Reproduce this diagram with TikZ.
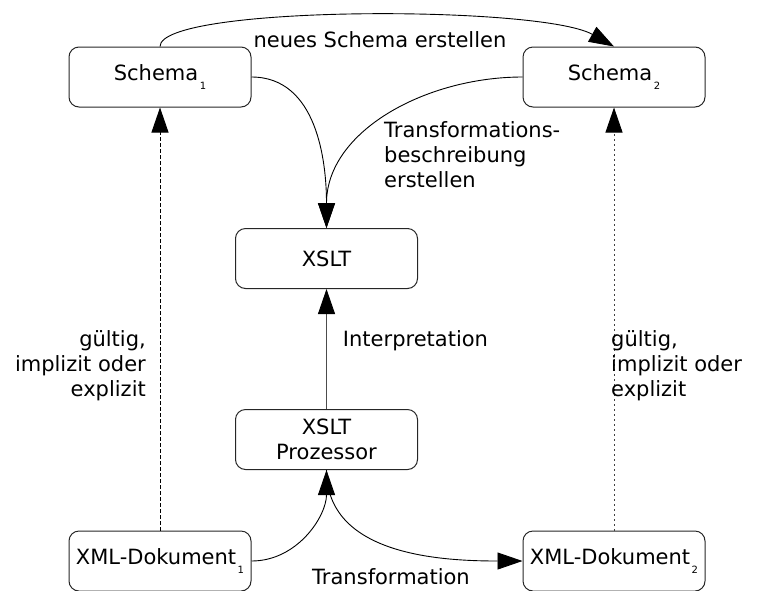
\documentclass[tikz,border=0pt]{standalone}
\usepackage{fontspec}
\setmainfont{DejaVu Sans}
\usetikzlibrary{arrows.meta}
\newcommand\idx[1]{\kern1.5pt\raisebox{-8.5pt}{\fontsize{10}{10}\selectfont #1}}
\begin{document}
\begin{tikzpicture}[x=1pt,y=-1pt,
  every node/.style={font=\fontsize{21}{25}\selectfont, inner sep=0pt},
  box/.style={draw=black!85, line width=1pt, rounded corners=10pt,
              minimum width=182pt, minimum height=60pt},
  conn/.style={line width=0.9pt, -{Triangle[length=25pt,width=17pt,color=black]}},
  valid/.style={conn, dash pattern=on 4pt off 2pt},
  validfine/.style={conn, draw=black!75, dash pattern=on 2pt off 3pt}]
  \useasboundingbox (0,0) rectangle (765,590);

  % boxes
  \node[box] (s1)   at (160,77)  {Schema\idx{1}};
  \node[box] (s2)   at (614,77)  {Schema\idx{2}};
  \node[box] (xslt) at (326.5,258.5) {XSLT};
  \node[box, align=center] (proc) at (326.5,439.5) {XSLT\\Prozessor};
  \node[box] (x1)   at (160,561) {XML-Dokument\idx{1}};
  \node[box] (x2)   at (614,561) {XML-Dokument\idx{2}};

  % connectors
  \draw[conn] (s1.north) .. controls (160,5) and (540,5) .. (s2.north);
  \draw[conn] (s1.east) to[out=0,in=90] (xslt.north);
  \draw[conn] (s2.west) to[out=180,in=90] (xslt.north);
  \draw[conn, draw=black!70] (proc.north) -- (xslt.south);
  \draw[conn] (x1.east) to[out=0,in=-90] (proc.south);
  \draw[conn] (proc.south) to[out=-90,in=180] (x2.west);
  \draw[valid] (x1.north) -- (s1.south);
  \draw[validfine] (x2.north) -- (s2.south);

  % labels
  \node (lnew) at (380,40) {neues Schema erstellen};
  \node[anchor=west, align=left] (ltrans) at (384,155)
    {Transformations-\\beschreibung\\erstellen};
  \node (linterp) at (415.5,341) {Interpretation};
  \node[anchor=base] (ltransf) at (391,584) {Transformation};
  \node[anchor=east, align=right] (lvalid1) at (146,366)
    {gültig,\\implizit oder\\explizit};
  \node[anchor=west, align=left] (lvalid2) at (611,366)
    {gültig,\\implizit oder\\explizit};
\end{tikzpicture}
\end{document}
